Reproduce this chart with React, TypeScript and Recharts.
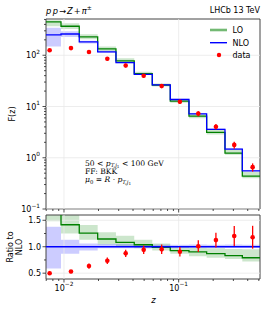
import React from "react";
import {
  ComposedChart,
  Line,
  Area,
  Scatter,
  XAxis,
  YAxis,
  ReferenceLine,
  ReferenceArea,
  ErrorBar,
} from "recharts";

// ---- data ----
const binEdges = [0.0065, 0.00942, 0.01359, 0.01967, 0.0284, 0.041, 0.0589, 0.0845, 0.123, 0.1754, 0.2535, 0.359, 0.53];
const nloValues = [250, 260, 182, 116, 72, 42.4, 26.5, 13.7, 7.2, 3.59, 1.48, 0.556];
const loValues = [450, 368, 229, 133, 78, 44, 26.2, 12.7, 6.5, 3.12, 1.23, 0.44];
const loBandLow = [370, 325, 206, 121, 72.7, 41.1, 24.6, 11.9, 5.9, 2.84, 1.14, 0.4];
const loBandHigh = [480, 421, 257, 148, 87, 47.9, 28.1, 13.7, 7.06, 3.48, 1.42, 0.53];
const nloBandLow = [147.5, 226, 169, 112.5, 69.8, 41.1, 26.0, 13.4, 7.06, 3.52, 1.45, 0.545];
const nloBandHigh = [345, 294, 193, 121.8, 75.6, 44.5, 27.6, 14.2, 7.49, 3.73, 1.54, 0.578];
const dataZ = [0.0075, 0.01151, 0.01652, 0.02387, 0.03453, 0.04955, 0.0711, 0.1025, 0.1483, 0.2113, 0.3053, 0.4416];
const dataValues = [125, 138, 115.5, 85.3, 63, 39.9, 25.2, 12.4, 7.27, 4.04, 1.78, 0.656];
const dataErrors = [7.5, 8, 9, 7, 5, 3.4, 2.4, 1.2, 0.8, 0.5, 0.28, 0.12];

// ---- ticks ----
const xMajorTicks = [0.01, 0.1];
const xMajorLabels: Record<string, string> = { "0.01": "\u22122", "0.1": "\u22121" };
const xMinorTicks = [0.007, 0.008, 0.009, 0.02, 0.03, 0.04, 0.05, 0.06, 0.07, 0.08, 0.09, 0.2, 0.3, 0.4, 0.5];
const yMajorTicks = [0.1, 1, 10, 100];
const yMajorLabels: Record<string, string> = { "0.1": "\u22121", "1": "0", "10": "1", "100": "2" };
const yMinorTicks = [0.2, 0.3, 0.4, 0.5, 0.6, 0.7, 0.8, 0.9, 2, 3, 4, 5, 6, 7, 8, 9, 20, 30, 40, 50, 60, 70, 80, 90, 200, 300, 400, 500];
const ratioMajorTicks = [0.5, 1.0, 1.5];
const ratioMajorLabels = ["0.5", "1.0", "1.5"];
const ratioMinorTicks = [0.75, 1.25];

const X_DOMAIN: [number, number] = [0.00697, 0.512];
const Y_DOMAIN: [number, number] = [0.1, 510];
const R_DOMAIN: [number, number] = [0.39, 1.6];

const W = 267;
const PL = 46;
const PR = 260;
const FONT = "DejaVu Sans";
const SERIF = "DejaVu Serif";
const TICK_COLOR = "#222";

const stepRows = binEdges.map((z, i) => {
  const k = Math.min(i, nloValues.length - 1);
  const n = nloValues[k];
  return {
    z,
    lo: loValues[k],
    nlo: n,
    loBand: [loBandLow[k], loBandHigh[k]],
    nloBand: [nloBandLow[k], nloBandHigh[k]],
    loR: loValues[k] / n,
    nloR: n / n,
    loBandR: [loBandLow[k] / n, loBandHigh[k] / n],
    nloBandR: [nloBandLow[k] / n, nloBandHigh[k] / n],
  };
});
const pointRows = dataZ.map((z, i) => ({ z, y: dataValues[i], err: dataErrors[i] }));
const ratioPointRows = dataZ.map((z, i) => ({
  z,
  y: dataValues[i] / nloValues[i],
  err: dataErrors[i] / nloValues[i],
}));

const makeXTick = (plotBottom: number, withLabels: boolean) => (props: any) => {
  const { x, payload } = props;
  const v = payload.value;
  const major = xMajorTicks.includes(v);
  return (
    <g>
      <line x1={x} x2={x} y1={plotBottom} y2={plotBottom + (major ? 3.5 : 2)} stroke={TICK_COLOR} strokeWidth={0.8} />
      {major && withLabels && (
        <text x={x} y={plotBottom + 11.5} textAnchor="middle" fontFamily={FONT} fontSize={8} fill="#000">
          10
          <tspan dy={-4.3} fontSize={5.8}>
            {xMajorLabels[String(v)]}
          </tspan>
        </text>
      )}
    </g>
  );
};

const LogYTick = (props: any) => {
  const { y, payload } = props;
  const v = payload.value;
  const major = yMajorTicks.includes(v);
  return (
    <g>
      <line x1={PL - (major ? 3.5 : 2)} x2={PL} y1={y} y2={y} stroke={TICK_COLOR} strokeWidth={0.8} />
      {major && (
        <text x={PL - 6} y={y + 3} textAnchor="end" fontFamily={FONT} fontSize={8} fill="#000">
          10
          <tspan dy={-4.3} fontSize={5.8}>
            {yMajorLabels[String(v)]}
          </tspan>
        </text>
      )}
    </g>
  );
};

const RatioYTick = (props: any) => {
  const { y, payload } = props;
  const v = payload.value;
  const idx = ratioMajorTicks.indexOf(v);
  const major = idx >= 0;
  return (
    <g>
      <line x1={PL - (major ? 3.5 : 2)} x2={PL} y1={y} y2={y} stroke={TICK_COLOR} strokeWidth={0.8} />
      {major && (
        <text x={PL - 5} y={y + 3} textAnchor="end" fontFamily={FONT} fontSize={8} fill="#000">
          {ratioMajorLabels[idx]}
        </text>
      )}
    </g>
  );
};

const dot = (p: any) => <circle cx={p.cx} cy={p.cy} r={2.3} fill="#ff0000" />;

const GRID = "#e9e9e9";

export default function App() {
  const top1 = 19;
  const h1 = 222;
  const xh1 = 13;
  const h2 = 100;
  const off2 = 212;
  return (
    <div style={{ position: "absolute", left: 0, top: 0, width: W, height: 312, background: "#fff" }}>
      <div style={{ position: "absolute", left: 0, top: 0 }}>
        <ComposedChart width={W} height={h1} data={stepRows} margin={{ top: top1, right: W - PR, bottom: 0, left: 0 }} style={{ overflow: "visible" }}>
          <XAxis
            dataKey="z"
            type="number"
            scale="log"
            domain={X_DOMAIN}
            allowDataOverflow
            ticks={[...xMinorTicks, ...xMajorTicks]}
            interval={0}
            height={xh1}
            axisLine={false}
            tickLine={false}
            tick={makeXTick(h1 - xh1, false)}
          />
          <YAxis
            type="number"
            scale="log"
            domain={Y_DOMAIN}
            allowDataOverflow
            ticks={[...yMinorTicks, ...yMajorTicks]}
            interval={0}
            width={PL}
            axisLine={false}
            tickLine={false}
            tick={LogYTick}
          />
          {xMajorTicks.map((t) => (
            <ReferenceLine key={"gx" + t} x={t} stroke={GRID} strokeWidth={0.8} />
          ))}
          {yMajorTicks.map((t) => (
            <ReferenceLine key={"gy" + t} y={t} stroke={GRID} strokeWidth={0.8} />
          ))}
          <Area dataKey="loBand" type="stepAfter" stroke="none" fill="#008000" fillOpacity={0.2} isAnimationActive={false} dot={false} activeDot={false} />
          <Area dataKey="nloBand" type="stepAfter" stroke="none" fill="#0000ff" fillOpacity={0.2} isAnimationActive={false} dot={false} activeDot={false} />
          <Line dataKey="lo" type="stepAfter" stroke="#008000" strokeWidth={1.3} dot={false} activeDot={false} isAnimationActive={false} />
          <Line dataKey="nlo" type="stepAfter" stroke="#0000ff" strokeWidth={1.3} dot={false} activeDot={false} isAnimationActive={false} />
          <Scatter data={pointRows} dataKey="y" shape={dot} isAnimationActive={false}>
            <ErrorBar dataKey="err" direction="y" width={0} stroke="#ff0000" strokeWidth={1.3} />
          </Scatter>
          <ReferenceArea x1={X_DOMAIN[0]} x2={X_DOMAIN[1]} y1={Y_DOMAIN[0]} y2={Y_DOMAIN[1]} fill="none" stroke="#444" strokeWidth={1} />
        </ComposedChart>
      </div>
      <div style={{ position: "absolute", left: 0, top: off2 }}>
        <ComposedChart width={W} height={h2} data={stepRows} margin={{ top: 3, right: W - PR, bottom: 0, left: 0 }}>
          <XAxis
            dataKey="z"
            type="number"
            scale="log"
            domain={X_DOMAIN}
            allowDataOverflow
            ticks={[...xMinorTicks, ...xMajorTicks]}
            interval={0}
            height={33}
            axisLine={false}
            tickLine={false}
            tick={makeXTick(h2 - 33, true)}
          />
          <YAxis
            type="number"
            domain={R_DOMAIN}
            allowDataOverflow
            ticks={[...ratioMinorTicks, ...ratioMajorTicks]}
            interval={0}
            width={PL}
            axisLine={false}
            tickLine={false}
            tick={RatioYTick}
          />
          {xMajorTicks.map((t) => (
            <ReferenceLine key={"rgx" + t} x={t} stroke={GRID} strokeWidth={0.8} />
          ))}
          {ratioMajorTicks.map((t) => (
            <ReferenceLine key={"rgy" + t} y={t} stroke={GRID} strokeWidth={0.8} />
          ))}
          <Area dataKey="loBandR" type="stepAfter" stroke="none" fill="#008000" fillOpacity={0.2} isAnimationActive={false} dot={false} activeDot={false} />
          <Area dataKey="nloBandR" type="stepAfter" stroke="none" fill="#0000ff" fillOpacity={0.2} isAnimationActive={false} dot={false} activeDot={false} />
          <Line dataKey="loR" type="stepAfter" stroke="#008000" strokeWidth={1.3} dot={false} activeDot={false} isAnimationActive={false} />
          <Line dataKey="nloR" type="stepAfter" stroke="#0000ff" strokeWidth={1.3} dot={false} activeDot={false} isAnimationActive={false} />
          <Scatter data={ratioPointRows} dataKey="y" shape={dot} isAnimationActive={false}>
            <ErrorBar dataKey="err" direction="y" width={0} stroke="#ff0000" strokeWidth={1.3} />
          </Scatter>
          <ReferenceArea x1={X_DOMAIN[0]} x2={X_DOMAIN[1]} y1={R_DOMAIN[0]} y2={R_DOMAIN[1]} fill="none" stroke="#444" strokeWidth={1} />
        </ComposedChart>
      </div>
      <svg width={W} height={312} style={{ position: "absolute", left: 0, top: 0, pointerEvents: "none" }}>
        {/* title */}
        <text x={PL} y={13.5} fontFamily={FONT} fontSize={8.3} fill="#000">
          <tspan fontStyle="italic">p</tspan>
          <tspan dx={1.5} fontStyle="italic">p</tspan>
          <tspan dx={1}>{"\u2192"}</tspan>
          <tspan dx={1} fontStyle="italic">Z</tspan>
          <tspan dx={1}>+</tspan>
          <tspan dx={1} fontStyle="italic">{"\u03c0"}</tspan>
          <tspan dy={-3.5} fontSize={6}>{"\u00b1"}</tspan>
        </text>
        <text x={PR} y={13.3} textAnchor="end" fontFamily={FONT} fontSize={8} fill="#000">
          LHCb 13 TeV
        </text>
        {/* legend */}
        <line x1={210} x2={227} y1={30} y2={30} stroke="#008000" strokeOpacity={0.55} strokeWidth={2.6} />
        <text x={232.5} y={32.8} fontFamily={FONT} fontSize={8} fill="#000">LO</text>
        <line x1={210} x2={227} y1={42.7} y2={42.7} stroke="#0000ff" strokeWidth={1.4} />
        <text x={232.5} y={45.6} fontFamily={FONT} fontSize={8} fill="#000">NLO</text>
        <circle cx={219} cy={55} r={2.2} fill="#ff0000" />
        <text x={232.5} y={57.8} fontFamily={FONT} fontSize={8} fill="#000">data</text>
        {/* annotation */}
        <text x={85} y={165.7} fontFamily={SERIF} fontSize={7.6} fill="#000">
          {"50 < "}
          <tspan fontStyle="italic">p</tspan>
          <tspan dy={1.6} fontSize={5.3} fontStyle="italic">T,j</tspan>
          <tspan dy={1} fontSize={4.2}>1</tspan>
          <tspan dy={-2.6} fontSize={7.6}>{" < 100 GeV"}</tspan>
        </text>
        <text x={85} y={174} fontFamily={SERIF} fontSize={7.6} fill="#000">
          FF: BKK
        </text>
        <text x={85} y={182.3} fontFamily={SERIF} fontSize={7.6} fill="#000">
          <tspan fontStyle="italic">{"\u03bc"}</tspan>
          <tspan dy={1.6} fontSize={5.3}>0</tspan>
          <tspan dy={-1.6} fontSize={7.6}>{" = "}</tspan>
          <tspan fontStyle="italic">R</tspan>
          <tspan>{" \u00b7 "}</tspan>
          <tspan fontStyle="italic">p</tspan>
          <tspan dy={1.6} fontSize={5.3} fontStyle="italic">T,j</tspan>
          <tspan dy={1} fontSize={4.2}>1</tspan>
        </text>
        {/* axis labels */}
        <text x={15} y={114} transform="rotate(-90 15 114)" textAnchor="middle" fontFamily={FONT} fontSize={8} fill="#000">
          F(z)
        </text>
        <text x={13} y={247} transform="rotate(-90 13 247)" textAnchor="middle" fontFamily={FONT} fontSize={8} fill="#000">
          Ratio to
        </text>
        <text x={21.5} y={247} transform="rotate(-90 21.5 247)" textAnchor="middle" fontFamily={FONT} fontSize={8} fill="#000">
          NLO
        </text>
        <text x={153.5} y={303} textAnchor="middle" fontFamily={FONT} fontSize={8.5} fontStyle="italic" fill="#000">
          z
        </text>
      </svg>
    </div>
  );
}
